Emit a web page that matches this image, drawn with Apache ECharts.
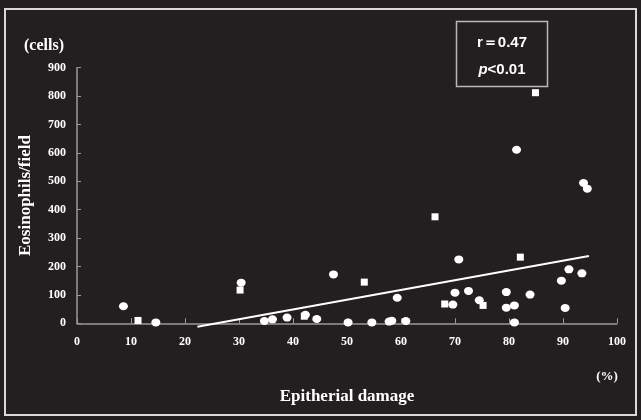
<!DOCTYPE html>
<html>
<head>
<meta charset="utf-8">
<script src="https://cdn.jsdelivr.net/npm/echarts@6/dist/echarts.min.js"></script>
<style>
  html, body { margin: 0; padding: 0; background: #231f20; }
  #chart { width: 641px; height: 420px; }
</style>
</head>
<body>
<div id="chart"></div>
<script>
// circles (one group of patients)
const circleX = [8.6, 14.6, 30.4, 34.7, 36.2, 38.9, 42.3, 44.4, 47.5, 50.2, 54.6, 57.8, 58.3, 59.3, 60.9,
  69.6, 70.0, 70.7, 72.5, 74.5, 79.5, 79.5, 81.0, 81.0, 81.4, 83.9, 89.7, 90.4, 91.1, 93.5, 93.8, 94.5];
const circleY = [60, 3, 143, 8, 14, 20, 30, 15, 172, 3, 3, 6, 9, 90, 8,
  66, 108, 225, 114, 81, 110, 55, 63, 3, 611, 101, 150, 54, 190, 176, 494, 474];

// squares (other group)
const squareX = [11.3, 30.2, 42.1, 53.2, 66.3, 68.1, 75.2, 82.1, 84.9];
const squareY = [10, 117, 25, 145, 375, 68, 63, 233, 812];

// regression line end points
const fitX = [22.3, 94.8];
const fitY = [-12, 237];

const xTicks = [0, 10, 20, 30, 40, 50, 60, 70, 80, 90, 100];
const yTicks = [0, 100, 200, 300, 400, 500, 600, 700, 800, 900];

const pair = (xs, ys) => xs.map((x, i) => [x, ys[i]]);

const bg = '#231f20';
const axisGray = '#9a9a9a';
const serif = '"Liberation Serif", "DejaVu Serif", serif';

const chart = echarts.init(document.getElementById('chart'));

const option = {
    backgroundColor: bg,
    animation: false,
    grid: {
        left: 77,
        right: 24,
        top: 67.7,
        bottom: 96.7
    },
    xAxis: {
        type: 'value',
        min: xTicks[0],
        max: xTicks[xTicks.length - 1],
        interval: 10,
        name: 'Epitherial damage',
        nameLocation: 'middle',
        nameGap: 65,
        nameTextStyle: {
            color: '#fff',
            fontFamily: serif,
            fontWeight: 'bold',
            fontSize: 17
        },
        axisLine: { show: true, lineStyle: { color: axisGray, width: 1.5 } },
        axisTick: { show: true, inside: true, length: 5, lineStyle: { color: axisGray } },
        axisLabel: {
            color: '#fff',
            fontFamily: serif,
            fontWeight: 'bold',
            fontSize: 12,
            margin: 13
        },
        splitLine: { show: false }
    },
    yAxis: {
        type: 'value',
        min: yTicks[0],
        max: yTicks[yTicks.length - 1],
        interval: 100,
        name: 'Eosinophils/field',
        nameLocation: 'middle',
        nameRotate: 90,
        nameGap: 43,
        nameTextStyle: {
            color: '#fff',
            fontFamily: serif,
            fontWeight: 'bold',
            fontSize: 17
        },
        axisLine: { show: true, lineStyle: { color: axisGray, width: 1.5 } },
        axisTick: { show: true, inside: true, length: 4, lineStyle: { color: axisGray } },
        axisLabel: {
            color: '#fff',
            fontFamily: serif,
            fontWeight: 'bold',
            fontSize: 12,
            margin: 11
        },
        splitLine: { show: false }
    },
    graphic: [
        {
            type: 'rect',
            shape: { x: 5, y: 9, width: 631, height: 406 },
            style: { fill: 'none', stroke: '#d8d8d8', lineWidth: 2 },
            silent: true
        },
        {
            type: 'rect',
            shape: { x: 456.5, y: 21.5, width: 91, height: 65 },
            style: { fill: 'none', stroke: '#b8b8b8', lineWidth: 1.5 },
            silent: true
        },
        {
            type: 'text',
            x: 502, y: 43,
            style: {
                text: 'r＝0.47',
                fill: '#fff',
                font: 'bold 15px "Liberation Sans", Arial, sans-serif',
                align: 'center',
                verticalAlign: 'middle'
            }
        },
        {
            type: 'text',
            x: 502, y: 70,
            style: {
                text: '{i|p}<0.01',
                fill: '#fff',
                font: 'bold 15px "Liberation Sans", Arial, sans-serif',
                align: 'center',
                verticalAlign: 'middle',
                rich: {
                    i: {
                        fill: '#fff',
                        fontStyle: 'italic',
                        fontWeight: 'bold',
                        fontSize: 15,
                        fontFamily: '"Liberation Sans", Arial, sans-serif'
                    }
                }
            }
        },
        {
            type: 'text',
            x: 44, y: 46,
            style: {
                text: '(cells)',
                fill: '#fff',
                font: 'bold 16px ' + serif,
                align: 'center',
                verticalAlign: 'middle'
            }
        },
        {
            type: 'text',
            x: 607, y: 377,
            style: {
                text: '(%)',
                fill: '#fff',
                font: 'bold 13px ' + serif,
                align: 'center',
                verticalAlign: 'middle'
            }
        }
    ],
    series: [
        {
            type: 'line',
            data: pair(fitX, fitY),
            symbol: 'none',
            clip: false,
            lineStyle: { color: '#fff', width: 2 },
            z: 2
        },
        {
            type: 'scatter',
            data: pair(circleX, circleY),
            symbol: 'circle',
            symbolSize: [9, 8],
            clip: false,
            itemStyle: { color: '#fff', opacity: 1 },
            z: 3
        },
        {
            type: 'scatter',
            data: pair(squareX, squareY),
            symbol: 'rect',
            symbolSize: 7,
            clip: false,
            itemStyle: { color: '#fff', opacity: 1 },
            z: 3
        }
    ]
};

chart.setOption(option);
</script>
</body>
</html>
